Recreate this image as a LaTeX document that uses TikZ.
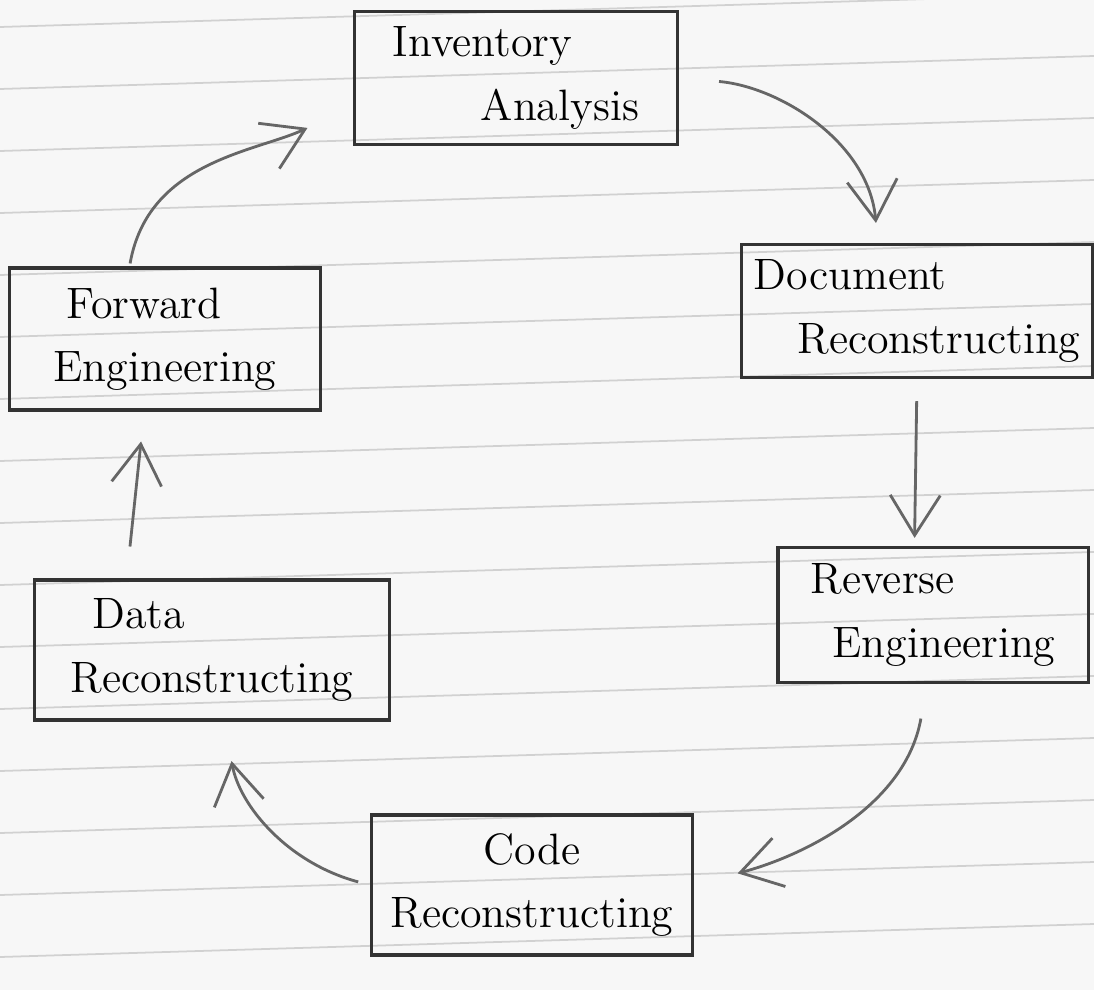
\documentclass[tikz,border=0pt]{standalone}
\usetikzlibrary{arrows.meta, positioning}

\begin{document}
\begin{tikzpicture}[
        x=0.01cm, y=0.01cm,
        stage/.style={rectangle, draw=black!80, line width=0.9pt, align=left, text=black, font=\fontsize{12.5}{18}\selectfont},
        flow/.style={-{Straight Barb[length=4mm, width=5mm]}, draw=black!60, line width=0.8pt},
        rule/.style={draw=black!18, line width=0.5pt}
    ]
        \useasboundingbox[fill=black!3] (0,0) rectangle (1094,990);

        % Paper rules
        \foreach \k in {0,...,15}
            \draw[rule] (0,{963-62*\k}) -- (1094,{996-62*\k});

        % Stages
        \node[stage, minimum width=3.23cm, minimum height=1.33cm] (inv) at (516,912) {Inventory\\\hspace*{2em}Analysis};
        \node[stage, minimum width=3.45cm, minimum height=1.33cm] (doc) at (917,679) {Document\\\hspace*{1em}Reconstructing};
        \node[stage, minimum width=3.10cm, minimum height=1.35cm] (rev) at (933,375) {Reverse\\\hspace*{0.5em}Engineering};
        \node[stage, minimum width=3.21cm, minimum height=1.40cm, align=center] (code) at (532,105) {Code\\Reconstructing};
        \node[stage, minimum width=3.55cm, minimum height=1.40cm] (data) at (212,340) {\hspace*{0.5em}Data\\Reconstructing};
        \node[stage, minimum width=3.10cm, minimum height=1.42cm] (fwd) at (165,651) {\hspace*{0.3em}Forward\\Engineering};

        % Cycle
        \draw[flow, shorten <=4mm, shorten >=2mm] (inv.east) to[out=-5, in=95] (doc.120);
        \draw[flow, shorten <=2.2mm, shorten >=0.8mm] (doc.south) -- (rev.105);
        \draw[flow, shorten <=3.5mm, shorten >=4.5mm] (rev.265) to[out=-100, in=15] (code.east);
        \draw[flow, shorten <=1.2mm, shorten >=4mm] (code.west) to[out=165, in=-80] (data.-80);
        \draw[flow, shorten <=3.2mm, shorten >=3mm] (data.140) -- (fwd.254);
        \draw[flow, shorten <=0.3mm, shorten >=5mm] (fwd.116) to[out=80, in=205] (inv.190);
    \end{tikzpicture}
\end{document}
